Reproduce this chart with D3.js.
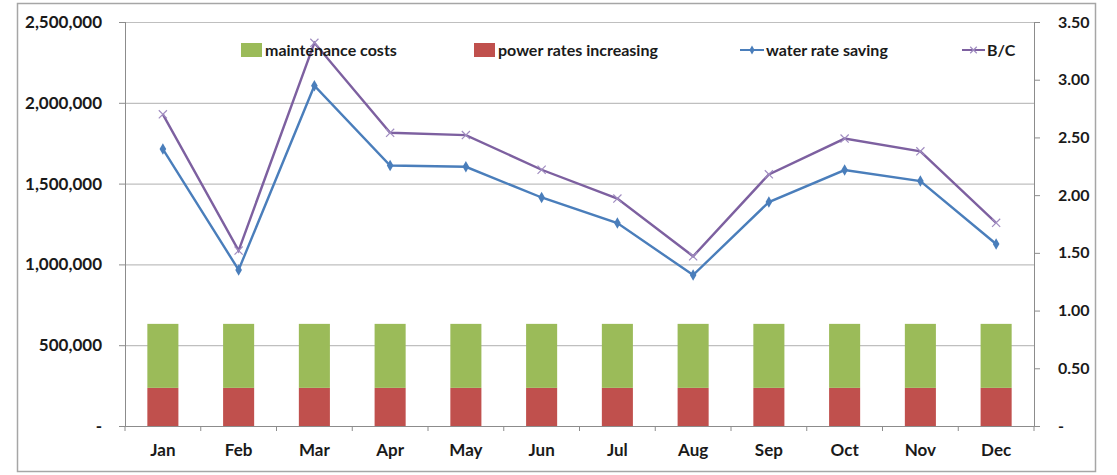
<!DOCTYPE html>
<html><head><meta charset="utf-8">
<script src="https://cdn.jsdelivr.net/npm/d3@7"></script>
<style>body{margin:0;background:#fff}svg{display:block}text{font-family:Lato,"Open Sans",sans-serif;font-weight:bold;fill:#1a1a1a}</style>
</head><body>
<script>
const months = ["Jan","Feb","Mar","Apr","May","Jun","Jul","Aug","Sep","Oct","Nov","Dec"];
const maintenanceCosts = [396000,396000,396000,396000,396000,396000,396000,396000,396000,396000,396000,396000];
const powerRatesIncreasing = [236000,236000,236000,236000,236000,236000,236000,236000,236000,236000,236000,236000];
const waterRateSaving = [1714000,966000,2106000,1612000,1604000,1414000,1256000,934000,1386000,1584000,1516000,1126000];
const benefitCost = [2.70,1.52,3.32,2.54,2.52,2.22,1.97,1.47,2.18,2.49,2.38,1.76];
const leftTicks = [0,500000,1000000,1500000,2000000,2500000];
const rightTicks = [0,0.5,1,1.5,2,2.5,3,3.5];

const W=1117,H=475;
const m={l:125,r:1034,t:22,b:426};
const svg=d3.select("body").append("svg").attr("width",W).attr("height",H);
svg.append("rect").attr("x",17.5).attr("y",3.5).attr("width",1078).attr("height",468).attr("fill","#fff").attr("stroke","#a6a6a6").attr("stroke-width",1.5);

const x=d3.scaleBand().domain(months).range([m.l,m.r]);
const yL=d3.scaleLinear().domain([0,2500000]).range([m.b,m.t]);
const yR=d3.scaleLinear().domain([0,3.5]).range([m.b,m.t]);

// gridlines
svg.append("g").selectAll("line").data(leftTicks.slice(1)).join("line")
 .attr("x1",m.l).attr("x2",m.r).attr("y1",d=>yL(d)+0.5).attr("y2",d=>yL(d)+0.5)
 .attr("stroke","#bfbfbf").attr("stroke-width",1.2);

// bars
const bw=x.bandwidth()*0.41;
const bars=svg.append("g");
bars.selectAll(".p").data(months).join("rect")
 .attr("x",d=>x(d)+(x.bandwidth()-bw)/2).attr("width",bw)
 .attr("y",(d,i)=>yL(powerRatesIncreasing[i])).attr("height",(d,i)=>yL(0)-yL(powerRatesIncreasing[i]))
 .attr("fill","#c0504d");
bars.selectAll(".m").data(months).join("rect")
 .attr("x",d=>x(d)+(x.bandwidth()-bw)/2).attr("width",bw)
 .attr("y",(d,i)=>yL(powerRatesIncreasing[i]+maintenanceCosts[i])).attr("height",(d,i)=>yL(powerRatesIncreasing[i])-yL(powerRatesIncreasing[i]+maintenanceCosts[i]))
 .attr("fill","#9bbb59");

// axes
const fmt=d=>d===0?"-":d3.format(",")(d);
const gL=svg.append("g").attr("transform",`translate(${m.l},0)`).call(d3.axisLeft(yL).tickValues(leftTicks).tickFormat(fmt).tickSize(6).tickPadding(17));
const gR=svg.append("g").attr("transform",`translate(${m.r},0)`).call(d3.axisRight(yR).tickValues(rightTicks).tickFormat(d=>d===0?"-":d.toFixed(2)).tickSize(6).tickPadding(18));
const gB=svg.append("g").attr("transform",`translate(0,${m.b})`).call(d3.axisBottom(x).tickSize(0).tickPadding(18));
gB.append("g").selectAll("line").data(d3.range(13)).join("line")
 .attr("x1",i=>m.l+i*x.step()).attr("x2",i=>m.l+i*x.step()).attr("y1",0).attr("y2",5).attr("stroke","#8c8c8c");
[gL,gR,gB].forEach(g=>{g.selectAll("path,line").attr("stroke","#8c8c8c").attr("stroke-width",1);g.selectAll("text").attr("font-size",17).attr("font-family","Lato").attr("font-weight","bold").attr("fill","#1a1a1a");});
gB.select(".domain").attr("d",`M${m.l},0.5H${m.r}`);
gL.select(".domain").attr("d",`M0.5,${m.t}V${m.b}`);
gR.select(".domain").attr("d",`M0.5,${m.t}V${m.b}`);
gR.selectAll("text").attr("font-weight","normal").attr("font-size",16).attr("fill","#333");
gL.selectAll("text").attr("fill","#222");

// lines
const cx=d=>x(d)+x.bandwidth()/2;
svg.append("path").datum(waterRateSaving).attr("fill","none").attr("stroke","#4a7ebb").attr("stroke-width",2.4)
 .attr("d",d3.line().x((d,i)=>cx(months[i])).y(d=>yL(d)));
svg.append("g").selectAll("path").data(waterRateSaving).join("path")
 .attr("d",d3.symbol(d3.symbolDiamond,38)).attr("transform",(d,i)=>`translate(${cx(months[i])},${yL(d)})`).attr("fill","#4a7ebb");
svg.append("path").datum(benefitCost).attr("fill","none").attr("stroke","#7d60a0").attr("stroke-width",2.4)
 .attr("d",d3.line().x((d,i)=>cx(months[i])).y(d=>yR(d)));
svg.append("g").selectAll("path").data(benefitCost).join("path")
 .attr("d",d3.symbol(d3.symbolX,45)).attr("transform",(d,i)=>`translate(${cx(months[i])},${yR(d)})`).attr("fill","none").attr("stroke","#a08cc0").attr("stroke-width",1.2);

// legend
const lg=svg.append("g");
const ly=50;
lg.append("rect").attr("x",241).attr("y",ly-7).attr("width",21).attr("height",14).attr("fill","#9bbb59");
lg.append("text").attr("x",265).attr("y",ly+6).attr("font-size",16).text("maintenance costs");
lg.append("rect").attr("x",474).attr("y",ly-7).attr("width",21).attr("height",14).attr("fill","#c0504d");
lg.append("text").attr("x",498).attr("y",ly+6).attr("font-size",16).text("power rates increasing");
lg.append("line").attr("x1",740).attr("x2",764).attr("y1",ly).attr("y2",ly).attr("stroke","#4a7ebb").attr("stroke-width",2);
lg.append("path").attr("d",d3.symbol(d3.symbolDiamond,24)).attr("transform",`translate(752,${ly})`).attr("fill","#4a7ebb");
lg.append("text").attr("x",766).attr("y",ly+6).attr("font-size",16).text("water rate saving");
lg.append("line").attr("x1",962).attr("x2",985).attr("y1",ly).attr("y2",ly).attr("stroke","#7d60a0").attr("stroke-width",2);
lg.append("path").attr("d",d3.symbol(d3.symbolX,30)).attr("transform",`translate(973.5,${ly})`).attr("fill","none").attr("stroke","#a08cc0").attr("stroke-width",1.2);
lg.append("text").attr("x",987).attr("y",ly+6).attr("font-size",16).text("B/C");
</script>
</body></html>
